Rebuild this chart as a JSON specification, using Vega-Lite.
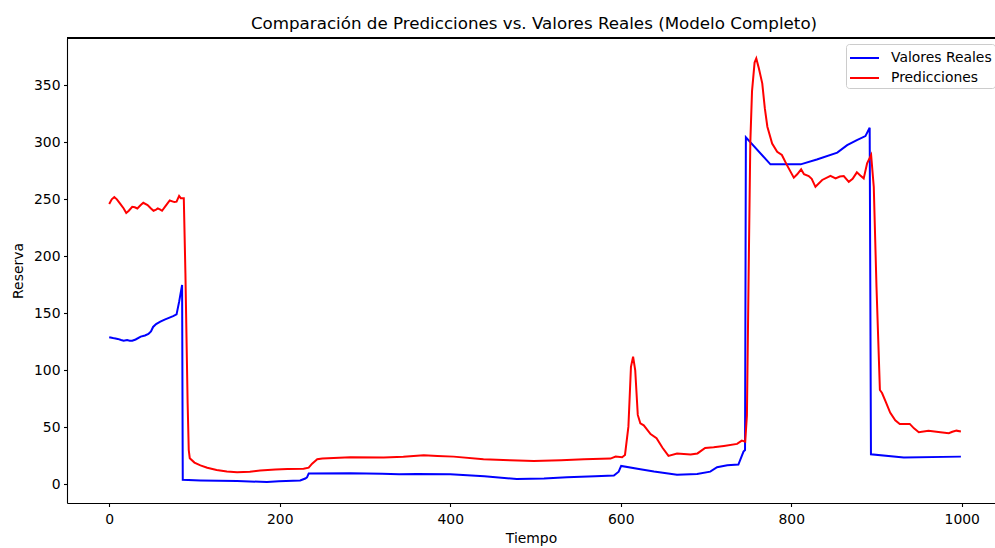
{
  "$schema": "https://vega.github.io/schema/vega-lite/v6.json",
  "autosize": {"type": "none"},
  "padding": {"left": 67, "top": 38, "right": 0, "bottom": 45},
  "width": 928,
  "height": 465,
  "background": "white",
  "title": {"text": "Comparación de Predicciones vs. Valores Reales (Modelo Completo)", "font": "DejaVu Sans", "fontSize": 16.7, "fontWeight": "normal", "color": "#000", "anchor": "middle", "offset": 5, "frame": "group", "dx": 3},
  "config": {
    "view": {"stroke": null},
    "axis": {"labelFont": "DejaVu Sans", "labelFontSize": 13.9, "labelColor": "#000", "tickColor": "#000", "domainColor": "#000", "tickSize": 3.5, "tickWidth": 1.1, "domainWidth": 1.1, "grid": false, "titleFont": "DejaVu Sans", "titleFontSize": 13.9, "titleFontWeight": "normal", "titleColor": "#000", "labelPadding": 3.5}
  },
  "datasets": {
    "series": [
      {"t": 0, "v": 129, "serie": "Valores Reales"},
      {"t": 3, "v": 128.5, "serie": "Valores Reales"},
      {"t": 6, "v": 128, "serie": "Valores Reales"},
      {"t": 10, "v": 127.5, "serie": "Valores Reales"},
      {"t": 14, "v": 126.5, "serie": "Valores Reales"},
      {"t": 17, "v": 126, "serie": "Valores Reales"},
      {"t": 21, "v": 126.5, "serie": "Valores Reales"},
      {"t": 24, "v": 126, "serie": "Valores Reales"},
      {"t": 27, "v": 126, "serie": "Valores Reales"},
      {"t": 31, "v": 127, "serie": "Valores Reales"},
      {"t": 37, "v": 129.5, "serie": "Valores Reales"},
      {"t": 42, "v": 130.5, "serie": "Valores Reales"},
      {"t": 46, "v": 131.8, "serie": "Valores Reales"},
      {"t": 49, "v": 134, "serie": "Valores Reales"},
      {"t": 51.5, "v": 138, "serie": "Valores Reales"},
      {"t": 55, "v": 140.5, "serie": "Valores Reales"},
      {"t": 60, "v": 142.6, "serie": "Valores Reales"},
      {"t": 65, "v": 144.5, "serie": "Valores Reales"},
      {"t": 70, "v": 146, "serie": "Valores Reales"},
      {"t": 75, "v": 147.5, "serie": "Valores Reales"},
      {"t": 79, "v": 149, "serie": "Valores Reales"},
      {"t": 82, "v": 160, "serie": "Valores Reales"},
      {"t": 85.5, "v": 174.8, "serie": "Valores Reales"},
      {"t": 86.3, "v": 3.8, "serie": "Valores Reales"},
      {"t": 107, "v": 3.3, "serie": "Valores Reales"},
      {"t": 150, "v": 2.7, "serie": "Valores Reales"},
      {"t": 185, "v": 2.0, "serie": "Valores Reales"},
      {"t": 199, "v": 2.6, "serie": "Valores Reales"},
      {"t": 224, "v": 3.2, "serie": "Valores Reales"},
      {"t": 230, "v": 5, "serie": "Valores Reales"},
      {"t": 232, "v": 6, "serie": "Valores Reales"},
      {"t": 234, "v": 9.3, "serie": "Valores Reales"},
      {"t": 283, "v": 9.6, "serie": "Valores Reales"},
      {"t": 320, "v": 9.2, "serie": "Valores Reales"},
      {"t": 340, "v": 8.7, "serie": "Valores Reales"},
      {"t": 361, "v": 9.0, "serie": "Valores Reales"},
      {"t": 400, "v": 8.8, "serie": "Valores Reales"},
      {"t": 440, "v": 7, "serie": "Valores Reales"},
      {"t": 478, "v": 4.6, "serie": "Valores Reales"},
      {"t": 510, "v": 5, "serie": "Valores Reales"},
      {"t": 537, "v": 6.1, "serie": "Valores Reales"},
      {"t": 570, "v": 7, "serie": "Valores Reales"},
      {"t": 592, "v": 7.6, "serie": "Valores Reales"},
      {"t": 597.6, "v": 11, "serie": "Valores Reales"},
      {"t": 600.5, "v": 16, "serie": "Valores Reales"},
      {"t": 623, "v": 13.1, "serie": "Valores Reales"},
      {"t": 639, "v": 11.1, "serie": "Valores Reales"},
      {"t": 666, "v": 8.4, "serie": "Valores Reales"},
      {"t": 689.6, "v": 9, "serie": "Valores Reales"},
      {"t": 705, "v": 11, "serie": "Valores Reales"},
      {"t": 713, "v": 14.9, "serie": "Valores Reales"},
      {"t": 725, "v": 16.6, "serie": "Valores Reales"},
      {"t": 738, "v": 17.2, "serie": "Valores Reales"},
      {"t": 744, "v": 28.6, "serie": "Valores Reales"},
      {"t": 745.8, "v": 30, "serie": "Valores Reales"},
      {"t": 746.8, "v": 304.4, "serie": "Valores Reales"},
      {"t": 775.6, "v": 280.7, "serie": "Valores Reales"},
      {"t": 811, "v": 280.7, "serie": "Valores Reales"},
      {"t": 830, "v": 285, "serie": "Valores Reales"},
      {"t": 854, "v": 291, "serie": "Valores Reales"},
      {"t": 865.6, "v": 297.6, "serie": "Valores Reales"},
      {"t": 877, "v": 302, "serie": "Valores Reales"},
      {"t": 887, "v": 305.5, "serie": "Valores Reales"},
      {"t": 892, "v": 312.8, "serie": "Valores Reales"},
      {"t": 893.5, "v": 26.3, "serie": "Valores Reales"},
      {"t": 932, "v": 23.4, "serie": "Valores Reales"},
      {"t": 999, "v": 24.2, "serie": "Valores Reales"},
      {"t": 0, "v": 246, "serie": "Predicciones"},
      {"t": 3, "v": 250, "serie": "Predicciones"},
      {"t": 6, "v": 252, "serie": "Predicciones"},
      {"t": 9, "v": 250, "serie": "Predicciones"},
      {"t": 13, "v": 246, "serie": "Predicciones"},
      {"t": 17, "v": 242, "serie": "Predicciones"},
      {"t": 20, "v": 238, "serie": "Predicciones"},
      {"t": 23, "v": 240, "serie": "Predicciones"},
      {"t": 27, "v": 243.5, "serie": "Predicciones"},
      {"t": 30, "v": 243, "serie": "Predicciones"},
      {"t": 33, "v": 242, "serie": "Predicciones"},
      {"t": 37, "v": 245, "serie": "Predicciones"},
      {"t": 40, "v": 247, "serie": "Predicciones"},
      {"t": 45, "v": 245, "serie": "Predicciones"},
      {"t": 49, "v": 242, "serie": "Predicciones"},
      {"t": 52, "v": 240, "serie": "Predicciones"},
      {"t": 55, "v": 241, "serie": "Predicciones"},
      {"t": 57, "v": 242, "serie": "Predicciones"},
      {"t": 60, "v": 241, "serie": "Predicciones"},
      {"t": 62, "v": 240, "serie": "Predicciones"},
      {"t": 66, "v": 244, "serie": "Predicciones"},
      {"t": 71, "v": 249, "serie": "Predicciones"},
      {"t": 76.5, "v": 247.6, "serie": "Predicciones"},
      {"t": 79, "v": 248, "serie": "Predicciones"},
      {"t": 82, "v": 253, "serie": "Predicciones"},
      {"t": 84, "v": 251, "serie": "Predicciones"},
      {"t": 87.5, "v": 251, "serie": "Predicciones"},
      {"t": 89.4, "v": 185, "serie": "Predicciones"},
      {"t": 92, "v": 71, "serie": "Predicciones"},
      {"t": 93.3, "v": 30, "serie": "Predicciones"},
      {"t": 94.5, "v": 22.8, "serie": "Predicciones"},
      {"t": 100, "v": 19, "serie": "Predicciones"},
      {"t": 107, "v": 16.5, "serie": "Predicciones"},
      {"t": 115, "v": 14.5, "serie": "Predicciones"},
      {"t": 126, "v": 12.5, "serie": "Predicciones"},
      {"t": 138, "v": 11.2, "serie": "Predicciones"},
      {"t": 150, "v": 10.5, "serie": "Predicciones"},
      {"t": 165, "v": 11, "serie": "Predicciones"},
      {"t": 177, "v": 12, "serie": "Predicciones"},
      {"t": 195, "v": 13, "serie": "Predicciones"},
      {"t": 209, "v": 13.4, "serie": "Predicciones"},
      {"t": 228, "v": 13.5, "serie": "Predicciones"},
      {"t": 234, "v": 14.5, "serie": "Predicciones"},
      {"t": 238, "v": 18, "serie": "Predicciones"},
      {"t": 244, "v": 21.9, "serie": "Predicciones"},
      {"t": 250, "v": 22.5, "serie": "Predicciones"},
      {"t": 283, "v": 23.7, "serie": "Predicciones"},
      {"t": 322, "v": 23.4, "serie": "Predicciones"},
      {"t": 345, "v": 24, "serie": "Predicciones"},
      {"t": 369, "v": 25.4, "serie": "Predicciones"},
      {"t": 385, "v": 24.8, "serie": "Predicciones"},
      {"t": 404, "v": 24.2, "serie": "Predicciones"},
      {"t": 439, "v": 21.9, "serie": "Predicciones"},
      {"t": 470, "v": 21, "serie": "Predicciones"},
      {"t": 498, "v": 20.4, "serie": "Predicciones"},
      {"t": 530, "v": 21, "serie": "Predicciones"},
      {"t": 557, "v": 21.9, "serie": "Predicciones"},
      {"t": 588, "v": 22.5, "serie": "Predicciones"},
      {"t": 594, "v": 24.2, "serie": "Predicciones"},
      {"t": 601.6, "v": 23.7, "serie": "Predicciones"},
      {"t": 605, "v": 25.7, "serie": "Predicciones"},
      {"t": 609, "v": 50.5, "serie": "Predicciones"},
      {"t": 612, "v": 103, "serie": "Predicciones"},
      {"t": 614.5, "v": 112, "serie": "Predicciones"},
      {"t": 617, "v": 100, "serie": "Predicciones"},
      {"t": 620, "v": 60.8, "serie": "Predicciones"},
      {"t": 623, "v": 53.5, "serie": "Predicciones"},
      {"t": 627, "v": 51.7, "serie": "Predicciones"},
      {"t": 635, "v": 44, "serie": "Predicciones"},
      {"t": 642, "v": 40.3, "serie": "Predicciones"},
      {"t": 649, "v": 32, "serie": "Predicciones"},
      {"t": 656, "v": 24.8, "serie": "Predicciones"},
      {"t": 666, "v": 26.9, "serie": "Predicciones"},
      {"t": 682, "v": 26, "serie": "Predicciones"},
      {"t": 690, "v": 27, "serie": "Predicciones"},
      {"t": 699, "v": 31.8, "serie": "Predicciones"},
      {"t": 709, "v": 32.4, "serie": "Predicciones"},
      {"t": 721, "v": 33.6, "serie": "Predicciones"},
      {"t": 736.5, "v": 35.4, "serie": "Predicciones"},
      {"t": 742, "v": 38.3, "serie": "Predicciones"},
      {"t": 746, "v": 37.4, "serie": "Predicciones"},
      {"t": 748, "v": 60, "serie": "Predicciones"},
      {"t": 750, "v": 182, "serie": "Predicciones"},
      {"t": 752, "v": 300, "serie": "Predicciones"},
      {"t": 754, "v": 345, "serie": "Predicciones"},
      {"t": 757, "v": 370, "serie": "Predicciones"},
      {"t": 759, "v": 373.7, "serie": "Predicciones"},
      {"t": 762, "v": 365, "serie": "Predicciones"},
      {"t": 766, "v": 351.8, "serie": "Predicciones"},
      {"t": 769, "v": 330, "serie": "Predicciones"},
      {"t": 772, "v": 313.7, "serie": "Predicciones"},
      {"t": 777.6, "v": 299, "serie": "Predicciones"},
      {"t": 783.5, "v": 291.8, "serie": "Predicciones"},
      {"t": 789, "v": 288.9, "serie": "Predicciones"},
      {"t": 795, "v": 280, "serie": "Predicciones"},
      {"t": 803, "v": 269, "serie": "Predicciones"},
      {"t": 807, "v": 272, "serie": "Predicciones"},
      {"t": 811.6, "v": 276.3, "serie": "Predicciones"},
      {"t": 815, "v": 272, "serie": "Predicciones"},
      {"t": 820.5, "v": 270.4, "serie": "Predicciones"},
      {"t": 824, "v": 268, "serie": "Predicciones"},
      {"t": 828.4, "v": 261, "serie": "Predicciones"},
      {"t": 836.3, "v": 267, "serie": "Predicciones"},
      {"t": 846, "v": 270.7, "serie": "Predicciones"},
      {"t": 852, "v": 268.3, "serie": "Predicciones"},
      {"t": 857, "v": 270, "serie": "Predicciones"},
      {"t": 861.6, "v": 270.4, "serie": "Predicciones"},
      {"t": 867.5, "v": 265.4, "serie": "Predicciones"},
      {"t": 872, "v": 268, "serie": "Predicciones"},
      {"t": 877, "v": 273.7, "serie": "Predicciones"},
      {"t": 881, "v": 271, "serie": "Predicciones"},
      {"t": 885, "v": 268.4, "serie": "Predicciones"},
      {"t": 889, "v": 281.6, "serie": "Predicciones"},
      {"t": 893.7, "v": 288.9, "serie": "Predicciones"},
      {"t": 896.8, "v": 261, "serie": "Predicciones"},
      {"t": 900, "v": 173, "serie": "Predicciones"},
      {"t": 904, "v": 82.7, "serie": "Predicciones"},
      {"t": 906.5, "v": 80, "serie": "Predicciones"},
      {"t": 911, "v": 72, "serie": "Predicciones"},
      {"t": 916, "v": 62.8, "serie": "Predicciones"},
      {"t": 922, "v": 56, "serie": "Predicciones"},
      {"t": 927.3, "v": 52.9, "serie": "Predicciones"},
      {"t": 939, "v": 52.9, "serie": "Predicciones"},
      {"t": 944, "v": 49, "serie": "Predicciones"},
      {"t": 949.6, "v": 45.6, "serie": "Predicciones"},
      {"t": 961, "v": 46.8, "serie": "Predicciones"},
      {"t": 975, "v": 45.6, "serie": "Predicciones"},
      {"t": 984.8, "v": 44.7, "serie": "Predicciones"},
      {"t": 989, "v": 46, "serie": "Predicciones"},
      {"t": 993.8, "v": 47, "serie": "Predicciones"},
      {"t": 999, "v": 46.2, "serie": "Predicciones"}
    ]
  },
  "data": {"name": "series"},
  "layer": [
    {
      "mark": {"type": "rule", "color": "#000", "strokeWidth": 1.1},
      "encoding": {"y": {"datum": 391.6, "type": "quantitative"}}
    },
    {
      "mark": {"type": "line", "strokeWidth": 2, "interpolate": "linear"},
      "encoding": {
        "x": {"field": "t", "type": "quantitative", "scale": {"domain": [-49.5, 1039], "nice": false, "zero": false},
              "axis": {"title": "Tiempo", "values": [0, 200, 400, 600, 800, 1000], "format": "d", "labelFlush": false, "labelPadding": 5.5, "titlePadding": 6}},
        "y": {"field": "v", "type": "quantitative", "scale": {"domain": [-16.5, 391.6], "nice": false, "zero": false},
              "axis": {"title": "Reserva", "values": [0, 50, 100, 150, 200, 250, 300, 350], "format": "d", "titlePadding": 8}},
        "color": {"field": "serie", "type": "nominal",
                  "scale": {"domain": ["Valores Reales", "Predicciones"], "range": ["blue", "red"]},
                  "legend": {"title": null, "orient": "none", "legendX": 779, "legendY": 6, "symbolType": "M-1,0H1.9", "symbolSize": 400, "symbolStrokeWidth": 2, "labelFont": "DejaVu Sans", "labelFontSize": 13.9, "labelColor": "#000", "fillColor": "rgba(255,255,255,0.8)", "strokeColor": "#cccccc", "cornerRadius": 3, "padding": 3, "rowPadding": 2, "labelOffset": 20}}
      }
    }
  ]
}
